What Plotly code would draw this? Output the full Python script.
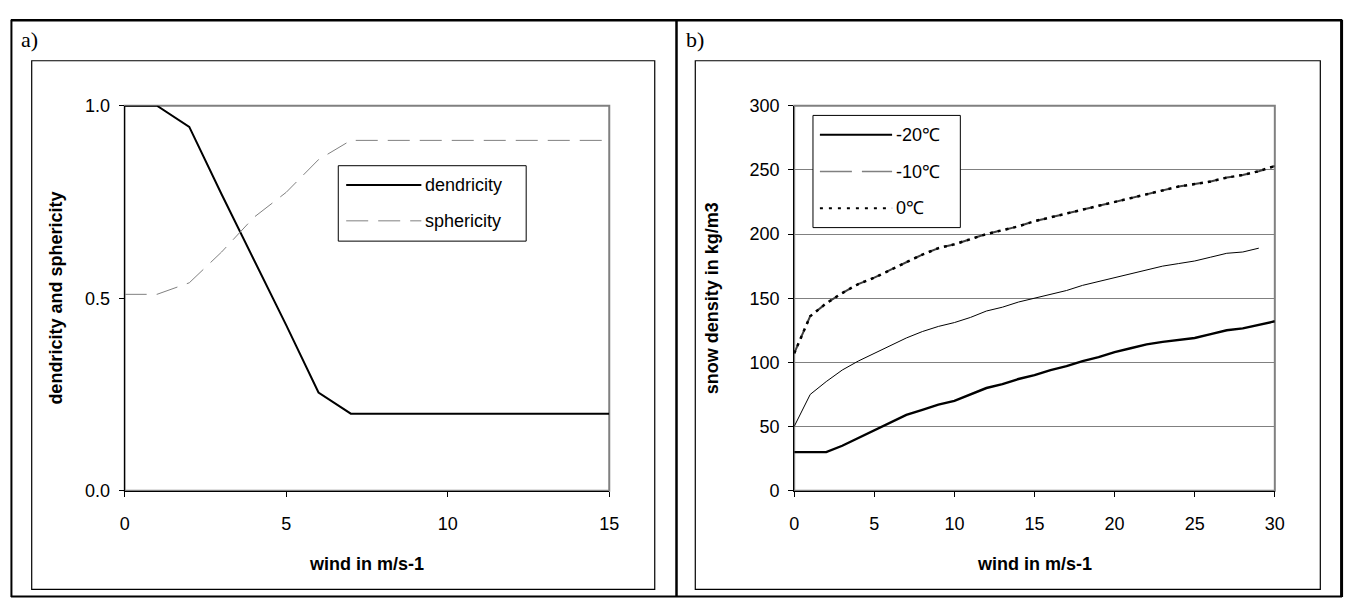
import plotly.graph_objects as go

# ---------------- data ----------------
wind_a = list(range(0, 16))
dendricity = [1.0, 1.0, 0.945, 0.77, 0.60, 0.43, 0.255, 0.2, 0.2, 0.2, 0.2, 0.2, 0.2, 0.2, 0.2, 0.2]
sphericity = [0.51, 0.51, 0.54, 0.62, 0.71, 0.775, 0.86, 0.91, 0.91, 0.91, 0.91, 0.91, 0.91, 0.91, 0.91, 0.91]

wind_b = list(range(0, 31))
rho_m20 = [30, 30, 30, 35, 41, 47, 53, 59, 63, 67, 70, 75, 80, 83, 87, 90, 94, 97, 101, 104,
           108, 111, 114, 116, 117.5, 119, 122, 125, 126.5, 129, 132]
rho_m10 = [107, 136, 146, 154, 161, 166, 172, 178, 184, 189, 192, 196, 200, 203, 206, 210, 213,
           216, 219, 222, 225, 228, 231, 234, 237, 239, 241, 244, 246, 249, 253]
rho_0 = [107, 136, 146, 154, 161, 166, 172, 178, 184, 189, 192, 196, 200, 203, 206, 210, 213,
         216, 219, 222, 225, 228, 231, 234, 237, 239, 241, 244, 246, 249, 253]
wind_thin = list(range(0, 30))
rho_thin = [50, 75, 85, 94, 101, 107, 113, 119, 124, 128, 131, 135, 140, 143, 147, 150, 153, 156,
            160, 163, 166, 169, 172, 175, 177, 179, 182, 185, 186, 189]

W, H = 1358, 608
FONT = "Arial, Liberation Sans, sans-serif"
SERIF = "Times New Roman, Liberation Serif, serif"


def px(x):
    return x / W


def py(y):
    return 1 - y / H


fig = go.Figure()

# left panel traces
fig.add_trace(go.Scatter(x=wind_a, y=dendricity, mode="lines", name="dendricity",
                         line=dict(color="black", width=2), xaxis="x", yaxis="y", showlegend=False))
fig.add_trace(go.Scatter(x=wind_a, y=sphericity, mode="lines", name="sphericity",
                         line=dict(color="#808080", width=1, dash="22px,10px"), xaxis="x", yaxis="y",
                         showlegend=False))

# right panel traces
fig.add_trace(go.Scatter(x=wind_thin, y=rho_thin, mode="lines", name="",
                         line=dict(color="black", width=1), xaxis="x2", yaxis="y2", showlegend=False))
fig.add_trace(go.Scatter(x=wind_b, y=rho_m20, mode="lines", name="-20℃",
                         line=dict(color="black", width=2.4), xaxis="x2", yaxis="y2", showlegend=False))
fig.add_trace(go.Scatter(x=wind_b, y=rho_m10, mode="lines", name="-10℃",
                         line=dict(color="#404040", width=2, dash="9px,7px"), xaxis="x2", yaxis="y2",
                         showlegend=False))
fig.add_trace(go.Scatter(x=wind_b, y=rho_0, mode="lines", name="0℃",
                         line=dict(color="black", width=2.5, dash="3px,5px"), xaxis="x2", yaxis="y2",
                         showlegend=False))

# plot-area pixel geometry
AL, AR, AT, AB = 121, 611, 99, 497
BL, BR = 798, 1284

axis_common = dict(showline=True, linecolor="black", linewidth=1, ticks="outside", ticklen=5,
                   tickcolor="black", tickwidth=1, zeroline=False,
                   tickfont=dict(family=FONT, size=18, color="black"))

fig.update_layout(
    width=W, height=H, margin=dict(l=0, r=0, t=0, b=0),
    paper_bgcolor="white", plot_bgcolor="white",
    xaxis=dict(domain=[px(AL), px(AR)], range=[0, 15], tickvals=[0, 5, 10, 15], anchor="y",
               showgrid=False, ticklabelstandoff=12, **axis_common),
    yaxis=dict(domain=[py(AB), py(AT)], range=[0, 1], tickvals=[0, 0.5, 1.0], tickformat=".1f",
               anchor="x", showgrid=False, ticklabelstandoff=5, **axis_common),
    xaxis2=dict(domain=[px(BL), px(BR)], range=[0, 30], tickvals=[0, 5, 10, 15, 20, 25, 30],
                anchor="y2", showgrid=False, ticklabelstandoff=12, **axis_common),
    yaxis2=dict(domain=[py(AB), py(AT)], range=[0, 300], tickvals=[0, 50, 100, 150, 200, 250, 300],
                anchor="x2", showgrid=True, gridcolor="#808080", gridwidth=1, ticklabelstandoff=5,
                **axis_common),
)

shapes = []
# outer table borders
for (x0, y0, x1, y1, w) in [(6, 10.5, 1352, 10.5, 2.5), (6, 606.5, 1352, 606.5, 2),
                            (6.5, 10, 6.5, 607, 2), (679, 10, 679, 607, 2.5),
                            (1351.5, 10, 1351.5, 607, 3)]:
    shapes.append(dict(type="line", xref="paper", yref="paper", x0=px(x0), y0=py(y0), x1=px(x1),
                       y1=py(y1), line=dict(color="black", width=w)))
# inner chart frames
for (x0, x1) in [(27, 657), (698, 1330)]:
    shapes.append(dict(type="rect", xref="paper", yref="paper", x0=px(x0), y0=py(52.5), x1=px(x1),
                       y1=py(599), line=dict(color="black", width=1.2)))
# plot-area grey borders
for xr, yr in [("x domain", "y domain"), ("x2 domain", "y2 domain")]:
    shapes.append(dict(type="rect", xref=xr, yref=yr, x0=0, y0=0, x1=1, y1=1, layer="below",
                       line=dict(color="#808080", width=2)))

annotations = []
# panel letters
for txt, xx in [("a)", 14), ("b)", 687)]:
    annotations.append(dict(text=txt, xref="paper", yref="paper", x=px(xx), y=py(31), xanchor="left",
                            yanchor="middle", showarrow=False,
                            font=dict(family=SERIF, size=22, color="black")))
# axis titles
tfont = dict(family=FONT, size=18, color="black")
annotations.append(dict(text="<b>wind in m/s-1</b>", xref="paper", yref="paper", x=px((AL + AR) / 2),
                        y=py(573), xanchor="center", yanchor="middle", showarrow=False, font=tfont))
annotations.append(dict(text="<b>wind in m/s-1</b>", xref="paper", yref="paper", x=px((BL + BR) / 2),
                        y=py(573), xanchor="center", yanchor="middle", showarrow=False, font=tfont))
annotations.append(dict(text="<b>dendricity and sphericity</b>", xref="paper", yref="paper", x=px(52),
                        y=py((AT + AB) / 2), xanchor="center", yanchor="middle", textangle=-90,
                        showarrow=False, font=tfont))
annotations.append(dict(text="<b>snow density in kg/m3</b>", xref="paper", yref="paper", x=px(715),
                        y=py((AT + AB) / 2), xanchor="center", yanchor="middle", textangle=-90,
                        showarrow=False, font=tfont))

# manual legends
lfont = dict(family=FONT, size=18, color="black")
# left legend box
shapes.append(dict(type="rect", xref="paper", yref="paper", x0=px(337), y0=py(161), x1=px(527),
                   y1=py(239), fillcolor="white", line=dict(color="black", width=1)))
leg_a = [("dendricity", 181, dict(color="black", width=2)),
         ("sphericity", 218, dict(color="#808080", width=1, dash="22px,10px"))]
for name, yy, ln in leg_a:
    shapes.append(dict(type="line", xref="paper", yref="paper", x0=px(345), y0=py(yy), x1=px(421),
                       y1=py(yy), line=ln))
    annotations.append(dict(text=name, xref="paper", yref="paper", x=px(423), y=py(yy), xanchor="left",
                            yanchor="middle", showarrow=False, font=lfont))
# right legend box
shapes.append(dict(type="rect", xref="paper", yref="paper", x0=px(817), y0=py(109), x1=px(966),
                   y1=py(225), fillcolor="white", line=dict(color="black", width=1)))
leg_b = [("-20℃", 129, dict(color="black", width=2)),
         ("-10℃", 167, dict(color="#808080", width=1.5, dash="32px,10px")),
         ("0℃", 205, dict(color="black", width=2, dash="3px,6px"))]
for name, yy, ln in leg_b:
    shapes.append(dict(type="line", xref="paper", yref="paper", x0=px(824), y0=py(yy), x1=px(897),
                       y1=py(yy), line=ln))
    annotations.append(dict(text=name, xref="paper", yref="paper", x=px(899), y=py(yy), xanchor="left",
                            yanchor="middle", showarrow=False, font=lfont))

fig.update_layout(shapes=shapes, annotations=annotations)
fig.write_html("out.html")
